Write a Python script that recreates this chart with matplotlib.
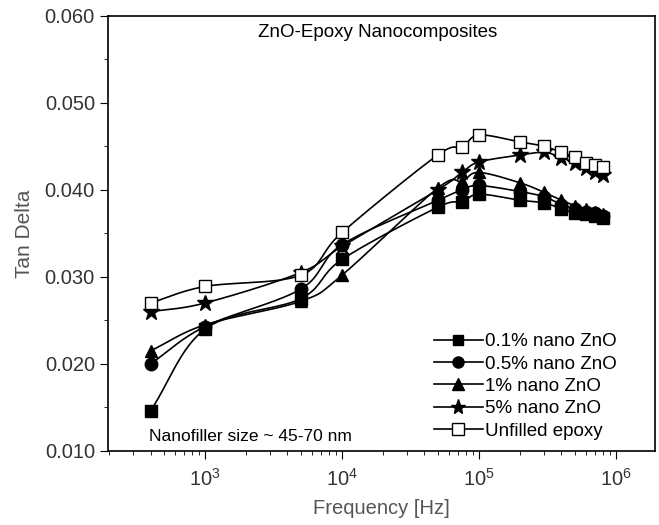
import numpy as np
import matplotlib.pyplot as plt
from matplotlib.ticker import MultipleLocator, FormatStrFormatter

freq = [400, 1e3, 5e3, 1e4, 5e4, 7.5e4, 1e5, 2e5, 3e5, 4e5, 5e5, 6e5, 7e5, 8e5]

zno_01 = [0.0146, 0.0240, 0.0275, 0.0320, 0.0380, 0.0386, 0.0395, 0.0388, 0.0385, 0.0378, 0.0373, 0.0372, 0.0370, 0.0368]
zno_05 = [0.0200, 0.0243, 0.0286, 0.0337, 0.0388, 0.0400, 0.0405, 0.0398, 0.0392, 0.0383, 0.0378, 0.0375, 0.0373, 0.0370]
zno_1 = [0.0215, 0.0245, 0.0272, 0.0302, 0.0402, 0.0410, 0.0420, 0.0408, 0.0397, 0.0388, 0.0382, 0.0378, 0.0375, 0.0372]
zno_5 = [0.0260, 0.0270, 0.0305, 0.0335, 0.0400, 0.0420, 0.0432, 0.0440, 0.0443, 0.0437, 0.0431, 0.0425, 0.0421, 0.0417]
unfilled = [0.0270, 0.0289, 0.0302, 0.0351, 0.0440, 0.0449, 0.0463, 0.0455, 0.0450, 0.0443, 0.0438, 0.0431, 0.0429, 0.0426]

labels = ['0.1% nano ZnO', '0.5% nano ZnO', '1% nano ZnO', '5% nano ZnO', 'Unfilled epoxy']
series = [zno_01, zno_05, zno_1, zno_5, unfilled]
markers = ['s', 'o', '^', '*', 's']
sizes = [8, 9, 9, 12, 9]


def smooth(x, y, n=20):
    # catmull-rom curve in log-x, only for the connecting line
    lx = np.log10(x)
    y = np.asarray(y)
    px = np.concatenate([[2 * lx[0] - lx[1]], lx, [2 * lx[-1] - lx[-2]]])
    py = np.concatenate([[2 * y[0] - y[1]], y, [2 * y[-1] - y[-2]]])
    xs, ys = [], []
    t = np.linspace(0, 1, n, endpoint=False)
    for i in range(1, len(px) - 2):
        for p, out in ((px, xs), (py, ys)):
            p0, p1, p2, p3 = p[i - 1], p[i], p[i + 1], p[i + 2]
            out.extend(0.5 * (2 * p1 + (-p0 + p2) * t + (2 * p0 - 5 * p1 + 4 * p2 - p3) * t ** 2
                              + (-p0 + 3 * p1 - 3 * p2 + p3) * t ** 3))
    xs.append(lx[-1])
    ys.append(y[-1])
    return 10 ** np.array(xs), np.array(ys)


plt.rcParams['font.family'] = ['Liberation Sans', 'DejaVu Sans']
fig = plt.figure(figsize=(6.59, 5.25), dpi=100)
ax = fig.add_axes([0.164, 0.141, 0.830, 0.829])

for y, lab, m, s in zip(series, labels, markers, sizes):
    sx, sy = smooth(freq, y)
    ax.plot(sx, sy, color='black', lw=1.2)
    face = 'white' if lab == 'Unfilled epoxy' else 'black'
    ax.plot(freq, y, linestyle='none', marker=m, markersize=s,
            markerfacecolor=face, markeredgecolor='black')
    ax.plot([], [], color='black', lw=1.2, marker=m, markersize=s - 1,
            markerfacecolor=face, markeredgecolor='black', label=lab)

ax.set_xscale('log')
ax.set_xlim(196, 1.93e6)
ax.set_ylim(0.010, 0.060)
ax.yaxis.set_major_locator(MultipleLocator(0.010))
ax.yaxis.set_minor_locator(MultipleLocator(0.005))
ax.yaxis.set_major_formatter(FormatStrFormatter('%.3f'))
ax.tick_params(which='both', direction='out', top=False, right=False,
               labelsize=14.5, labelcolor='#333333')
ax.tick_params(which='major', length=6)
ax.tick_params(which='minor', length=3)
ax.tick_params(axis='x', pad=6)
for sp in ax.spines.values():
    sp.set_linewidth(1.2)

ax.set_xlabel('Frequency [Hz]', fontsize=14.5, color='#555555', labelpad=7)
ax.set_ylabel('Tan Delta', fontsize=15, color='#555555', labelpad=8)

ax.text(0.493, 0.982, 'ZnO-Epoxy Nanocomposites', transform=ax.transAxes,
        ha='center', va='top', fontsize=13.5)
ax.text(0.074, 0.015, 'Nanofiller size ~ 45-70 nm', transform=ax.transAxes,
        ha='left', va='bottom', fontsize=12.5)

ax.legend(loc='lower right', frameon=False, fontsize=13.5, handlelength=2.6,
          handletextpad=0.1, labelspacing=0.28, borderaxespad=0.2,
          bbox_to_anchor=(0.95, 0.0))

fig.savefig('out.png', dpi=100)
